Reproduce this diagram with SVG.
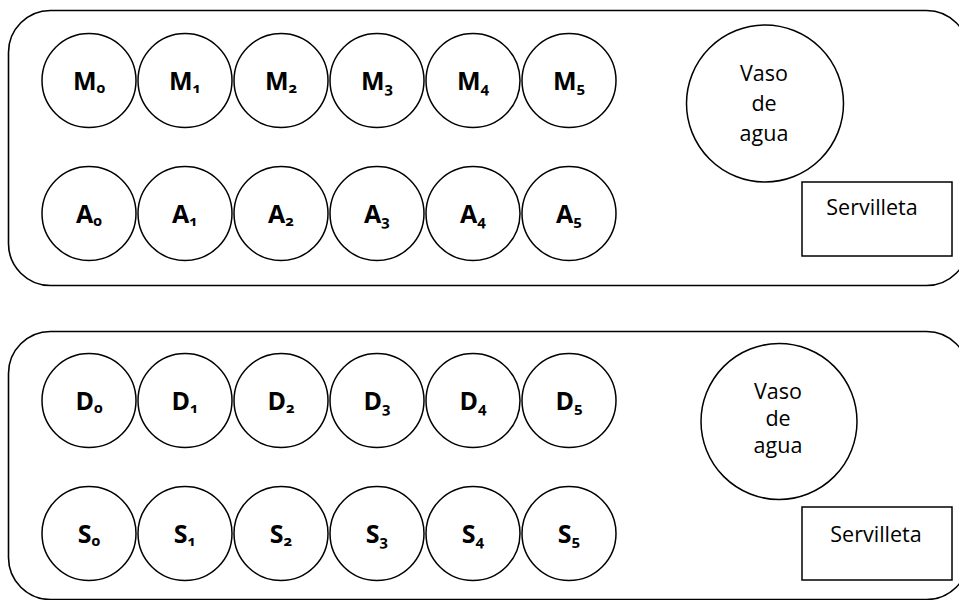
<svg xmlns="http://www.w3.org/2000/svg" width="959" height="600" viewBox="0 0 959 600">
<style>
.tray{fill:none;stroke:#000;stroke-width:1.6}
.c{fill:#fff;stroke:#000;stroke-width:1.5}
.r{fill:#fff;stroke:#000;stroke-width:1.5}
.lb{font-family:"Open Sans","Liberation Sans",sans-serif;font-weight:bold;font-size:25px;fill:#000;text-anchor:middle}
.sub{font-size:15px;font-variant-numeric:oldstyle-nums}
.t{font-family:"Open Sans","Liberation Sans",sans-serif;font-size:21.5px;fill:#000;text-anchor:middle}
</style>
<rect width="959" height="600" fill="#fff"/>
<g id="tray1"><rect class="tray" x="8.5" y="10.5" width="960" height="275" rx="42" ry="42"/></g>
<g id="tray2"><rect class="tray" x="8.5" y="331.5" width="960" height="268" rx="42" ry="42"/></g>
<g id="M0"><circle class="c" cx="89" cy="80.5" r="47"/><text class="lb" x="89" y="90">M<tspan class="sub" dy="3">0</tspan></text></g>
<g id="M1"><circle class="c" cx="185" cy="80.5" r="47"/><text class="lb" x="185" y="90">M<tspan class="sub" dy="3">1</tspan></text></g>
<g id="M2"><circle class="c" cx="281" cy="80.5" r="47"/><text class="lb" x="281" y="90">M<tspan class="sub" dy="3">2</tspan></text></g>
<g id="M3"><circle class="c" cx="377" cy="80.5" r="47"/><text class="lb" x="377" y="90">M<tspan class="sub" dy="3">3</tspan></text></g>
<g id="M4"><circle class="c" cx="473" cy="80.5" r="47"/><text class="lb" x="473" y="90">M<tspan class="sub" dy="3">4</tspan></text></g>
<g id="M5"><circle class="c" cx="569" cy="80.5" r="47"/><text class="lb" x="569" y="90">M<tspan class="sub" dy="3">5</tspan></text></g>
<g id="A0"><circle class="c" cx="89" cy="213.5" r="47"/><text class="lb" x="89" y="223">A<tspan class="sub" dy="3">0</tspan></text></g>
<g id="A1"><circle class="c" cx="185" cy="213.5" r="47"/><text class="lb" x="185" y="223">A<tspan class="sub" dy="3">1</tspan></text></g>
<g id="A2"><circle class="c" cx="281" cy="213.5" r="47"/><text class="lb" x="281" y="223">A<tspan class="sub" dy="3">2</tspan></text></g>
<g id="A3"><circle class="c" cx="377" cy="213.5" r="47"/><text class="lb" x="377" y="223">A<tspan class="sub" dy="3">3</tspan></text></g>
<g id="A4"><circle class="c" cx="473" cy="213.5" r="47"/><text class="lb" x="473" y="223">A<tspan class="sub" dy="3">4</tspan></text></g>
<g id="A5"><circle class="c" cx="569" cy="213.5" r="47"/><text class="lb" x="569" y="223">A<tspan class="sub" dy="3">5</tspan></text></g>
<g id="vaso1"><circle class="c" cx="765" cy="103.5" r="78.5"/><text class="t" x="764" y="81">Vaso</text><text class="t" x="764" y="111">de</text><text class="t" x="764" y="141">agua</text></g>
<g id="servilleta1"><rect class="r" x="802" y="182" width="150" height="74"/><text class="t" x="872" y="215">Servilleta</text></g>
<g id="D0"><circle class="c" cx="89" cy="400.5" r="47"/><text class="lb" x="89" y="410">D<tspan class="sub" dy="3">0</tspan></text></g>
<g id="D1"><circle class="c" cx="185" cy="400.5" r="47"/><text class="lb" x="185" y="410">D<tspan class="sub" dy="3">1</tspan></text></g>
<g id="D2"><circle class="c" cx="281" cy="400.5" r="47"/><text class="lb" x="281" y="410">D<tspan class="sub" dy="3">2</tspan></text></g>
<g id="D3"><circle class="c" cx="377" cy="400.5" r="47"/><text class="lb" x="377" y="410">D<tspan class="sub" dy="3">3</tspan></text></g>
<g id="D4"><circle class="c" cx="473" cy="400.5" r="47"/><text class="lb" x="473" y="410">D<tspan class="sub" dy="3">4</tspan></text></g>
<g id="D5"><circle class="c" cx="569" cy="400.5" r="47"/><text class="lb" x="569" y="410">D<tspan class="sub" dy="3">5</tspan></text></g>
<g id="S0"><circle class="c" cx="89" cy="533.5" r="47"/><text class="lb" x="89" y="543">S<tspan class="sub" dy="3">0</tspan></text></g>
<g id="S1"><circle class="c" cx="185" cy="533.5" r="47"/><text class="lb" x="185" y="543">S<tspan class="sub" dy="3">1</tspan></text></g>
<g id="S2"><circle class="c" cx="281" cy="533.5" r="47"/><text class="lb" x="281" y="543">S<tspan class="sub" dy="3">2</tspan></text></g>
<g id="S3"><circle class="c" cx="377" cy="533.5" r="47"/><text class="lb" x="377" y="543">S<tspan class="sub" dy="3">3</tspan></text></g>
<g id="S4"><circle class="c" cx="473" cy="533.5" r="47"/><text class="lb" x="473" y="543">S<tspan class="sub" dy="3">4</tspan></text></g>
<g id="S5"><circle class="c" cx="569" cy="533.5" r="47"/><text class="lb" x="569" y="543">S<tspan class="sub" dy="3">5</tspan></text></g>
<g id="vaso2"><circle class="c" cx="779" cy="421.5" r="78"/><text class="t" x="778" y="399">Vaso</text><text class="t" x="778" y="426">de</text><text class="t" x="778" y="453">agua</text></g>
<g id="servilleta2"><rect class="r" x="802" y="507" width="150" height="73"/><text class="t" x="876" y="542">Servilleta</text></g>
<g id="connectors"></g>
</svg>
